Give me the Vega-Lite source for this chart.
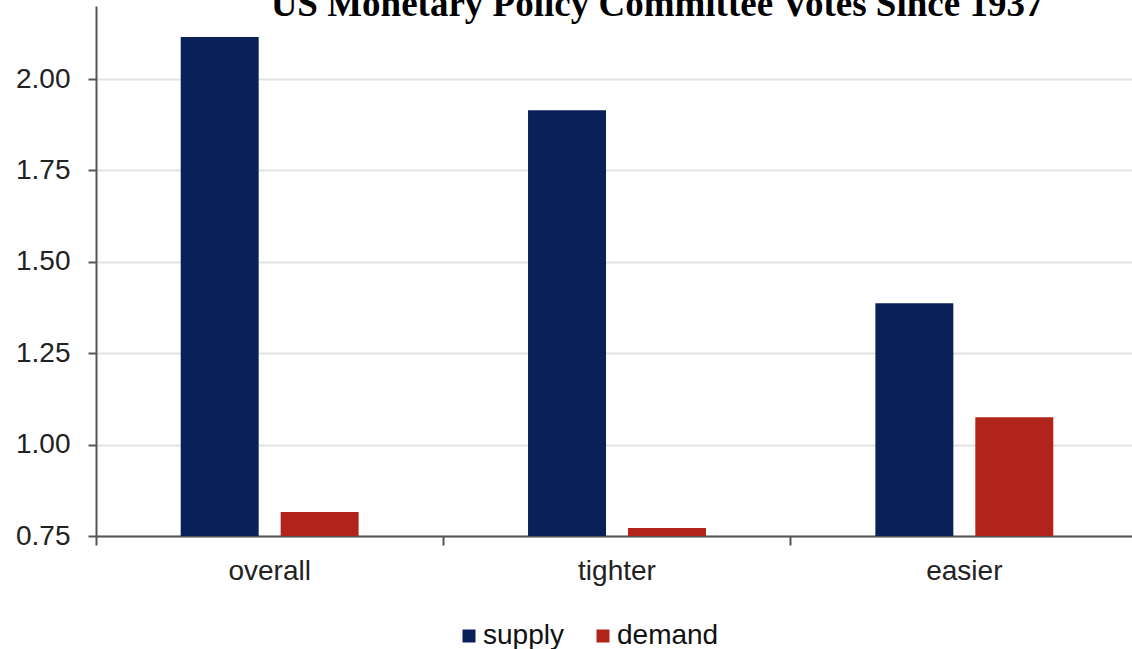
{
  "$schema": "https://vega.github.io/schema/vega-lite/v6.json",
  "autosize": "none",
  "width": 1042,
  "height": 530,
  "padding": {"left": 96, "top": 6, "right": 0, "bottom": 113},
  "background": "white",
  "title": {
    "text": "US Monetary Policy Committee Votes Since 1937",
    "font": "Liberation Serif",
    "fontSize": 37,
    "fontWeight": "bold",
    "color": "#000000",
    "anchor": "middle",
    "baseline": "alphabetic",
    "offset": 0,
    "dy": 47,
    "dx": 40
  },
  "data": {
    "values": [
      {"category": "overall", "type": "supply", "value": 2.115},
      {"category": "overall", "type": "demand", "value": 0.816},
      {"category": "tighter", "type": "supply", "value": 1.915},
      {"category": "tighter", "type": "demand", "value": 0.772},
      {"category": "easier", "type": "supply", "value": 1.387},
      {"category": "easier", "type": "demand", "value": 1.075}
    ]
  },
  "mark": {"type": "bar", "clip": true},
  "encoding": {
    "x": {
      "field": "category",
      "type": "nominal",
      "sort": ["overall", "tighter", "easier"],
      "scale": {"paddingInner": 0, "paddingOuter": 0},
      "axis": {
        "title": null,
        "labelAngle": 0,
        "labelFont": "Liberation Sans",
        "labelFontSize": 28,
        "labelColor": "#222222",
        "labelPadding": 12,
        "bandPosition": 0,
        "ticks": true,
        "tickSize": 9,
        "tickColor": "#555555",
        "tickWidth": 2,
        "domainColor": "#555555",
        "domainWidth": 2,
        "grid": false
      }
    },
    "xOffset": {
      "field": "type",
      "type": "nominal",
      "sort": ["supply", "demand"],
      "scale": {"paddingInner": 0.22, "paddingOuter": 0.8475}
    },
    "y": {
      "field": "value",
      "type": "quantitative",
      "scale": {"domain": [0.75, 2.2], "zero": false, "nice": false},
      "axis": {
        "title": null,
        "values": [0.75, 1, 1.25, 1.5, 1.75, 2],
        "format": ".2f",
        "labelFont": "Liberation Sans",
        "labelFontSize": 28,
        "labelColor": "#222222",
        "labelPadding": 18,
        "tickSize": 8,
        "tickColor": "#555555",
        "tickWidth": 2,
        "domainColor": "#555555",
        "domainWidth": 2,
        "gridColor": "#e2e2e2",
        "gridWidth": 2
      }
    },
    "y2": {"datum": 0.75},
    "color": {
      "field": "type",
      "type": "nominal",
      "scale": {"domain": ["supply", "demand"], "range": ["#0a2059", "#b0241c"]},
      "legend": {
        "title": null,
        "orient": "none",
        "direction": "horizontal",
        "legendX": 359,
        "legendY": 616,
        "symbolType": "square",
        "symbolSize": 169,
        "symbolStrokeWidth": 0,
        "labelFont": "Liberation Sans",
        "labelFontSize": 28,
        "labelColor": "#111111",
        "labelOffset": 0,
        "columnPadding": 25,
        "padding": 0
      }
    }
  },
  "config": {"view": {"stroke": null}}
}
